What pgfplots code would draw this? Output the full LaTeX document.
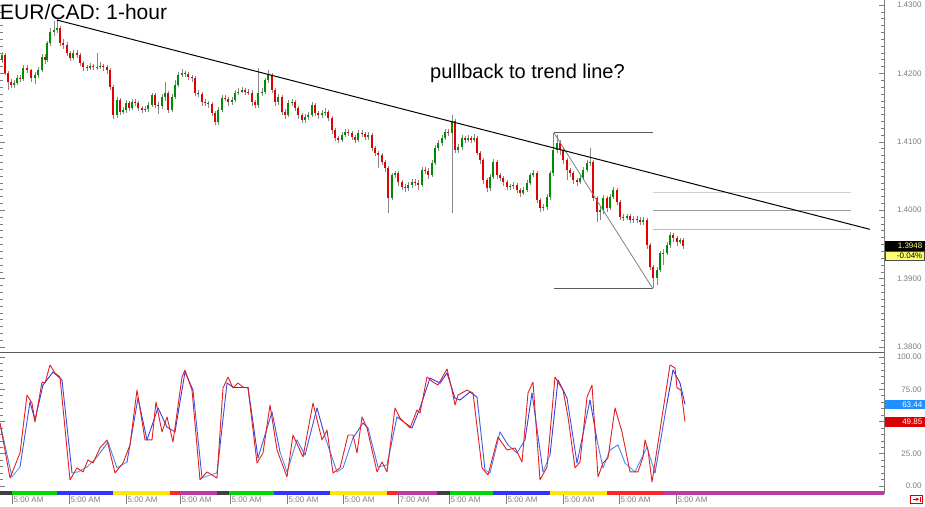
\documentclass[border=0pt]{standalone}
\usepackage{pgfplots}
\pgfplotsset{compat=1.18}
\usepackage{pgfplotstable}
\usepackage{fontspec}
\setmainfont{Liberation Sans}

\definecolor{wick}{RGB}{135,135,135}
\definecolor{axgray}{RGB}{125,125,125}
\definecolor{stred}{RGB}{228,30,30}
\definecolor{fibdark}{RGB}{90,90,90}
\definecolor{boxblue}{RGB}{30,144,255}
\definecolor{boxred}{RGB}{220,0,0}
\definecolor{pricetxt}{RGB}{255,255,120}
\definecolor{pctbox}{RGB}{255,255,110}

% hourly candles, x = position along the chart
\pgfplotstableread{
x o c h l d
2 1.4220 1.4227 1.4232 1.4215 1
5 1.4227 1.4201 1.4230 1.4197 0
8 1.4201 1.4187 1.4204 1.4176 0
11 1.4187 1.4183 1.4192 1.4178 0
14 1.4183 1.4186 1.4190 1.4179 1
17 1.4186 1.4193 1.4197 1.4183 1
20 1.4193 1.4192 1.4198 1.4188 0
23 1.4192 1.4208 1.4212 1.4189 1
27 1.4208 1.4205 1.4213 1.4201 0
31 1.4205 1.4193 1.4207 1.4188 0
35 1.4193 1.4198 1.4202 1.4185 1
38 1.4198 1.4205 1.4209 1.4194 1
42 1.4205 1.4224 1.4228 1.4202 1
45 1.4224 1.4220 1.4229 1.4214 0
47 1.4220 1.4244 1.4248 1.4217 1
50 1.4244 1.4261 1.4266 1.4240 1
54 1.4261 1.4264 1.4276 1.4255 1
57 1.4264 1.4266 1.4281 1.4259 1
60 1.4266 1.4244 1.4270 1.4240 0
63 1.4244 1.4242 1.4250 1.4236 0
67 1.4242 1.4230 1.4246 1.4225 0
70 1.4230 1.4223 1.4233 1.4218 0
73 1.4223 1.4230 1.4234 1.4220 1
77 1.4230 1.4227 1.4234 1.4222 0
80 1.4227 1.4215 1.4230 1.4211 0
83 1.4215 1.4209 1.4218 1.4204 0
87 1.4209 1.4208 1.4213 1.4204 0
90 1.4208 1.4211 1.4215 1.4205 1
93 1.4211 1.4209 1.4214 1.4205 0
97 1.4209 1.4210 1.4230 1.4205 1
100 1.4210 1.4211 1.4216 1.4206 1
103 1.4211 1.4209 1.4214 1.4204 0
107 1.4209 1.4205 1.4212 1.4199 0
110 1.4205 1.4180 1.4208 1.4176 0
113 1.4180 1.4139 1.4183 1.4134 0
117 1.4139 1.4161 1.4165 1.4135 1
120 1.4161 1.4144 1.4164 1.4139 0
123 1.4144 1.4146 1.4151 1.4140 1
126 1.4146 1.4157 1.4161 1.4142 1
129 1.4157 1.4149 1.4160 1.4145 0
132 1.4149 1.4158 1.4162 1.4146 1
135 1.4158 1.4156 1.4162 1.4152 0
138 1.4156 1.4149 1.4159 1.4145 0
142 1.4149 1.4147 1.4152 1.4142 0
145 1.4147 1.4148 1.4152 1.4143 1
148 1.4148 1.4154 1.4158 1.4144 1
152 1.4154 1.4168 1.4172 1.4151 1
155 1.4168 1.4154 1.4171 1.4149 0
158 1.4154 1.4152 1.4158 1.4140 0
162 1.4152 1.4166 1.4170 1.4148 1
165 1.4166 1.4171 1.4187 1.4160 1
168 1.4171 1.4147 1.4174 1.4142 0
172 1.4147 1.4166 1.4170 1.4143 1
175 1.4166 1.4183 1.4190 1.4162 1
178 1.4183 1.4198 1.4202 1.4180 1
182 1.4198 1.4201 1.4206 1.4195 1
185 1.4201 1.4199 1.4204 1.4195 0
188 1.4199 1.4195 1.4202 1.4191 0
192 1.4195 1.4193 1.4198 1.4188 0
195 1.4193 1.4171 1.4196 1.4167 0
198 1.4171 1.4170 1.4175 1.4165 0
202 1.4170 1.4158 1.4173 1.4153 0
205 1.4158 1.4157 1.4162 1.4152 0
208 1.4157 1.4155 1.4160 1.4150 0
212 1.4155 1.4142 1.4158 1.4138 0
215 1.4142 1.4129 1.4145 1.4124 0
218 1.4129 1.4147 1.4151 1.4125 1
222 1.4147 1.4164 1.4168 1.4144 1
225 1.4164 1.4163 1.4168 1.4159 0
228 1.4163 1.4158 1.4166 1.4153 0
232 1.4158 1.4161 1.4165 1.4154 1
235 1.4161 1.4171 1.4175 1.4158 1
238 1.4171 1.4173 1.4178 1.4168 1
242 1.4173 1.4176 1.4180 1.4171 1
245 1.4176 1.4173 1.4179 1.4169 0
248 1.4173 1.4172 1.4177 1.4168 0
252 1.4172 1.4158 1.4175 1.4153 0
255 1.4158 1.4154 1.4161 1.4149 0
258 1.4154 1.4171 1.4208 1.4150 1
262 1.4171 1.4173 1.4178 1.4167 1
265 1.4173 1.4190 1.4194 1.4170 1
268 1.4190 1.4198 1.4205 1.4186 1
272 1.4198 1.4176 1.4201 1.4171 0
275 1.4176 1.4158 1.4179 1.4153 0
278 1.4158 1.4166 1.4170 1.4154 1
282 1.4166 1.4144 1.4169 1.4139 0
285 1.4144 1.4139 1.4148 1.4134 0
288 1.4139 1.4157 1.4161 1.4136 1
292 1.4157 1.4158 1.4163 1.4153 1
295 1.4158 1.4149 1.4161 1.4145 0
298 1.4149 1.4139 1.4152 1.4134 0
302 1.4139 1.4132 1.4142 1.4127 0
305 1.4132 1.4136 1.4140 1.4128 1
308 1.4136 1.4139 1.4143 1.4132 1
312 1.4139 1.4154 1.4158 1.4136 1
315 1.4154 1.4142 1.4157 1.4137 0
318 1.4142 1.4139 1.4145 1.4134 0
322 1.4139 1.4142 1.4146 1.4135 1
325 1.4142 1.4144 1.4150 1.4138 1
328 1.4144 1.4135 1.4147 1.4130 0
332 1.4135 1.4117 1.4138 1.4112 0
335 1.4117 1.4106 1.4120 1.4101 0
338 1.4106 1.4103 1.4109 1.4098 0
342 1.4103 1.4110 1.4114 1.4099 1
345 1.4110 1.4114 1.4118 1.4107 1
348 1.4114 1.4113 1.4118 1.4108 0
352 1.4113 1.4107 1.4116 1.4102 0
355 1.4107 1.4103 1.4110 1.4098 0
358 1.4103 1.4113 1.4117 1.4100 1
362 1.4113 1.4112 1.4117 1.4107 0
365 1.4112 1.4107 1.4115 1.4102 0
368 1.4107 1.4110 1.4114 1.4103 1
372 1.4110 1.4091 1.4113 1.4086 0
375 1.4091 1.4084 1.4094 1.4079 0
378 1.4084 1.4081 1.4087 1.4062 0
382 1.4081 1.4071 1.4084 1.4066 0
385 1.4071 1.4062 1.4074 1.4056 0
388 1.4062 1.4018 1.4065 1.3996 0
392 1.4018 1.4051 1.4055 1.4015 1
395 1.4051 1.4054 1.4058 1.4047 1
398 1.4054 1.4041 1.4057 1.4036 0
402 1.4041 1.4034 1.4044 1.4029 0
405 1.4034 1.4032 1.4038 1.4027 0
408 1.4032 1.4037 1.4041 1.4028 1
412 1.4037 1.4041 1.4045 1.4033 1
415 1.4041 1.4040 1.4045 1.4035 0
418 1.4040 1.4037 1.4044 1.4030 0
422 1.4037 1.4059 1.4063 1.4034 1
425 1.4059 1.4058 1.4063 1.4053 0
428 1.4058 1.4051 1.4061 1.4046 0
432 1.4051 1.4069 1.4073 1.4048 1
435 1.4069 1.4091 1.4095 1.4066 1
438 1.4091 1.4098 1.4102 1.4087 1
442 1.4098 1.4106 1.4110 1.4094 1
445 1.4106 1.4114 1.4118 1.4102 1
448 1.4114 1.4113 1.4119 1.4108 0
452 1.4113 1.4130 1.4139 1.3996 1
455 1.4130 1.4088 1.4134 1.4083 0
458 1.4088 1.4092 1.4097 1.4084 1
462 1.4092 1.4106 1.4110 1.4088 1
465 1.4106 1.4103 1.4109 1.4098 0
468 1.4103 1.4106 1.4110 1.4100 1
471 1.4106 1.4103 1.4108 1.4098 0
474 1.4103 1.4106 1.4111 1.4099 1
477 1.4106 1.4084 1.4109 1.4080 0
480 1.4084 1.4073 1.4087 1.4068 0
483 1.4073 1.4044 1.4076 1.4039 0
487 1.4044 1.4032 1.4047 1.4027 0
490 1.4032 1.4049 1.4053 1.4028 1
493 1.4049 1.4071 1.4075 1.4045 1
497 1.4071 1.4051 1.4074 1.4046 0
500 1.4051 1.4047 1.4054 1.4042 0
503 1.4047 1.4041 1.4050 1.4036 0
507 1.4041 1.4034 1.4044 1.4029 0
510 1.4034 1.4035 1.4039 1.4030 1
513 1.4035 1.4037 1.4041 1.4031 1
517 1.4037 1.4030 1.4040 1.4025 0
520 1.4030 1.4025 1.4033 1.4020 0
523 1.4025 1.4030 1.4034 1.4022 1
527 1.4030 1.4040 1.4044 1.4027 1
530 1.4040 1.4051 1.4055 1.4037 1
533 1.4051 1.4054 1.4059 1.4048 1
537 1.4054 1.4015 1.4057 1.4010 0
540 1.4015 1.4003 1.4018 1.3997 0
543 1.4003 1.4005 1.4009 1.3999 1
547 1.4005 1.4019 1.4023 1.4001 1
550 1.4019 1.4054 1.4058 1.4015 1
553 1.4054 1.4088 1.4113 1.4050 1
557 1.4088 1.4098 1.4110 1.4084 1
560 1.4098 1.4088 1.4102 1.4080 0
563 1.4088 1.4073 1.4091 1.4068 0
567 1.4073 1.4059 1.4076 1.4044 0
570 1.4059 1.4054 1.4062 1.4049 0
573 1.4054 1.4044 1.4057 1.4039 0
577 1.4044 1.4041 1.4047 1.4036 0
580 1.4041 1.4047 1.4051 1.4038 1
583 1.4047 1.4059 1.4063 1.4044 1
587 1.4059 1.4069 1.4073 1.4056 1
590 1.4069 1.4071 1.4091 1.4065 1
593 1.4071 1.4018 1.4074 1.4013 0
597 1.4018 1.3997 1.4021 1.3983 0
600 1.3997 1.4000 1.4006 1.3985 1
603 1.4000 1.4018 1.4022 1.3995 1
607 1.4018 1.4003 1.4021 1.3997 0
610 1.4003 1.4019 1.4023 1.4000 1
613 1.4019 1.4030 1.4034 1.4016 1
617 1.4030 1.4012 1.4033 1.4007 0
620 1.4012 1.3990 1.4015 1.3985 0
623 1.3990 1.3989 1.3994 1.3984 0
627 1.3989 1.3991 1.3995 1.3985 1
630 1.3991 1.3986 1.3994 1.3981 0
633 1.3986 1.3987 1.3991 1.3982 1
637 1.3987 1.3986 1.3991 1.3981 0
640 1.3986 1.3983 1.3990 1.3978 0
643 1.3983 1.3986 1.3990 1.3979 1
647 1.3986 1.3949 1.3989 1.3944 0
650 1.3949 1.3917 1.3952 1.3912 0
653 1.3917 1.3901 1.3920 1.3886 0
657 1.3901 1.3913 1.3917 1.3890 1
660 1.3913 1.3937 1.3941 1.3909 1
663 1.3937 1.3938 1.3943 1.3920 1
667 1.3938 1.3949 1.3953 1.3934 1
670 1.3949 1.3964 1.3968 1.3945 1
673 1.3964 1.3959 1.3967 1.3954 0
677 1.3959 1.3953 1.3962 1.3948 0
680 1.3953 1.3956 1.3960 1.3950 1
683 1.3956 1.3948 1.3959 1.3944 0
}\candles

% stochastic, fast line (red)
\pgfplotstableread{
x v
0 48.8
10 6.2
20 25.6
27 70.5
32 64.3
35 49.6
42 80.6
45 79.8
50 93.8
55 87.6
60 84.5
70 4.7
77 14.0
83 10.9
88 20.2
93 17.8
100 29.5
107 35.7
115 10.1
123 17.8
130 31.8
137 74.4
145 35.7
152 35.7
156 65.1
162 41.9
167 53.5
173 34.1
182 84.5
185 89.9
192 74.4
200 4.7
207 10.9
217 6.2
223 76.0
228 84.5
233 76.0
238 79.8
243 76.7
248 76.0
257 17.8
263 25.6
270 62.8
277 27.9
287 7.0
293 39.5
303 22.5
313 64.3
322 35.7
327 43.4
333 10.1
340 14.0
348 39.5
353 39.5
357 25.6
362 53.5
367 45.0
377 10.9
382 18.6
387 10.9
395 60.5
400 52.7
410 45.0
417 58.9
420 56.6
427 84.5
433 80.6
438 78.3
447 90.7
452 74.4
455 62.8
458 70.5
467 74.4
473 72.1
482 14.0
488 8.5
498 38.0
507 27.9
515 29.5
522 18.6
528 72.1
533 80.6
540 4.7
547 14.7
555 84.5
563 74.4
568 53.5
575 14.0
580 18.6
587 69.0
592 78.3
598 7.0
603 17.8
608 21.7
615 60.5
622 41.9
630 10.9
638 10.9
643 22.5
645 35.7
648 27.9
652 3.1
660 43.4
670 93.8
675 91.5
677 76.0
681 74.4
685 49.85
}\stochK

% stochastic, slow line (blue)
\pgfplotstableread{
x v
0 48.8
12 7.0
20 14.7
30 65.1
35 51.2
43 78.3
53 88.4
62 82.2
72 10.1
78 10.9
87 14.7
97 22.5
108 34.1
117 14.0
127 18.6
138 68.2
147 35.7
158 60.5
167 45.7
175 41.9
185 88.4
193 74.4
202 6.2
210 8.5
217 10.1
227 79.8
233 76.7
248 76.7
258 21.7
272 57.4
280 26.4
287 10.9
297 35.7
305 24.0
317 60.5
325 38.0
337 10.9
343 14.0
353 37.2
363 48.8
368 45.0
378 14.7
387 16.3
397 53.5
412 45.0
420 60.5
430 83.7
440 79.8
447 87.6
455 68.2
460 66.7
470 72.9
477 69.0
485 12.4
490 10.1
500 41.9
508 31.8
517 25.6
525 35.7
532 72.1
543 10.9
550 24.0
558 82.2
567 68.2
577 17.8
590 66.7
597 35.7
603 14.0
610 27.9
618 31.8
625 17.8
635 10.9
647 30.2
655 10.1
667 64.3
673 89.9
680 79.8
685 63.44
}\stochD

\begin{document}
\begin{tikzpicture}[x=1pt,y=1pt]
\useasboundingbox (0,0) rectangle (925,-506);

% ---- price panel
\begin{axis}[
    at={(0pt,0pt)}, anchor=north west, scale only axis,
    width=884pt, height=352pt,
    xmin=0, xmax=884, ymin=1.37927, ymax=1.43073,
    axis line style={draw=none}, xtick=\empty,
    ytick={1.38,1.39,1.40,1.41,1.42,1.43}, minor y tick num=9,
    ytick pos=both, yticklabel pos=right, tick align=inside,
    major tick length=5pt, minor tick length=3pt,
    tick style={axgray, line width=0.5pt},
    scaled y ticks=false,
    yticklabel style={font=\fontsize{8}{9}\selectfont, text=axgray, anchor=east, xshift=41pt,
      /pgf/number format/fixed, /pgf/number format/fixed zerofill,
      /pgf/number format/precision=4, /pgf/number format/assume math mode=true},
    colormap={ud}{rgb255=(228,0,0) rgb255=(0,140,0)},
    point meta min=0, point meta max=1,
  ]
  % wicks
  \addplot[draw=wick, line width=0.8pt,
    quiver={u=0, v=\thisrow{h}-\thisrow{l}}] table[x=x, y=l] {\candles};
  % bodies: dark outline, then colour
  \addplot[draw=black!85, line width=2.6pt,
    quiver={u=0, v=\thisrow{c}-\thisrow{o}}] table[x=x, y=o] {\candles};
  \addplot[line width=1.4pt, point meta=\thisrow{d},
    quiver={u=0, v=\thisrow{c}-\thisrow{o},
      every arrow/.append style={draw=mapped color, line width=1.4pt}}]
    table[x=x, y=o] {\candles};

  % fibonacci tool
  \draw[fibdark, line width=0.9pt] (axis cs:554,1.4113) -- (axis cs:653,1.4113);
  \draw[fibdark, line width=0.9pt] (axis cs:554,1.3885) -- (axis cs:653,1.3885);
  \draw[gray, line width=0.8pt] (axis cs:554,1.4113) -- (axis cs:653,1.3885);
  \draw[black!18, line width=0.8pt] (axis cs:653,1.4026) -- (axis cs:851,1.4026);
  \draw[black!40, line width=0.8pt] (axis cs:653,1.3999) -- (axis cs:851,1.3999);
  \draw[black!28, line width=0.8pt] (axis cs:653,1.3972) -- (axis cs:851,1.3972);
  % trend line
  \draw[black, line width=1pt] (axis cs:57,1.4278) -- (axis cs:870,1.3972);
\end{axis}

% ---- stochastic panel
\begin{axis}[
    at={(0pt,-352pt)}, anchor=north west, scale only axis,
    width=884pt, height=139pt,
    xmin=0, xmax=884, ymin=-3.9, ymax=103.9,
    axis line style={draw=none}, xtick=\empty,
    ytick={0,25,50,75,100}, minor y tick num=4,
    ytick pos=both, yticklabel pos=right, tick align=inside,
    major tick length=5pt, minor tick length=3pt,
    tick style={axgray, line width=0.5pt},
    yticklabel style={font=\fontsize{8}{9}\selectfont, text=axgray, anchor=east, xshift=41pt,
      /pgf/number format/fixed, /pgf/number format/fixed zerofill,
      /pgf/number format/precision=2, /pgf/number format/assume math mode=true},
    colormap={stb}{rgb255=(90,200,255) rgb255=(60,60,225) rgb255=(45,45,220)},
    point meta min=0, point meta max=100,
  ]
  \addplot[mesh, point meta=y, line width=0.9pt, line join=round, line cap=round]
    table[x=x, y=v] {\stochD};
  \addplot[stred, line width=0.9pt, line join=round] table[x=x, y=v] {\stochK};
\end{axis}

% frame lines
\draw[black!65, line width=1pt] (0,-352) -- (884,-352);
\draw[axgray, line width=0.8pt] (884,0) -- (884,-494);

% session strip
\foreach \a/\b/\col in {0/12/black!75, 12/57/green!85!black, 57/113/blue!80,
    113/170/yellow!90!orange, 170/180/red!85, 180/217/magenta!70!blue!80,
    217/229/black!75, 229/274/green!85!black, 274/330/blue!80,
    330/387/yellow!90!orange, 387/397/red!85, 397/437/magenta!70!blue!80,
    437/450/black!75, 450/493/green!85!black, 493/550/blue!80,
    550/607/yellow!90!orange, 607/663/red!85, 663/884/magenta!70!blue!80}
  \fill[\col] (\a,-491) rectangle (\b,-494.5);

% time labels
\foreach \t/\lab in {12/5:00 AM, 69/5:00 AM, 126/5:00 AM, 180/5:00 AM, 230/5:00 AM,
    287/5:00 AM, 343/5:00 AM, 398/7:00 AM, 449/5:00 AM, 506/5:00 AM,
    563/5:00 AM, 619/5:00 AM, 676/5:00 AM}{
  \draw[axgray, line width=0.5pt] (\t,-494.5) -- (\t,-504);
  \node[anchor=base west, inner sep=0, text=axgray, font=\fontsize{8}{9}\selectfont]
    at (\t+1.5,-502.5) {\lab};
}

% value boxes
\fill[black] (884.5,-241) rectangle (925,-250.8);
\node[anchor=east, inner sep=0, text=pricetxt, font=\fontsize{8}{9}\selectfont]
  at (922.5,-246) {1.3948};
\filldraw[fill=pctbox, draw=black!70, line width=0.5pt]
  (884.8,-250.8) rectangle (924.6,-260);
\node[anchor=east, inner sep=0, font=\fontsize{8}{9}\selectfont] at (922.5,-255.5) {-0.04\%};

\fill[boxblue] (884.5,-399.5) rectangle (925,-409);
\node[anchor=east, inner sep=0, text=white, font=\fontsize{8}{9}\selectfont] at (922.5,-404.3) {63.44};
\fill[boxred] (884.5,-417) rectangle (925,-426.5);
\node[anchor=east, inner sep=0, text=white, font=\fontsize{8}{9}\selectfont] at (922.5,-421.8) {49.85};

% scroll button
\draw[red!85!black, line width=0.6pt] (910.5,-495) rectangle (922.5,-503.5);
\draw[red!85!black, line width=0.7pt, -stealth] (912.5,-499.2) -- (919.3,-499.2);
\draw[red!85!black, line width=0.7pt] (920.3,-496.5) -- (920.3,-502);

% titles
\node[anchor=base west, inner sep=0] at (0,-19.5) {\fontsize{21}{25}\selectfont EUR/CAD: 1-hour};
\node[anchor=base west, inner sep=0] at (430,-78) {\fontsize{20}{24}\selectfont pullback to trend line?};
\end{tikzpicture}
\end{document}
